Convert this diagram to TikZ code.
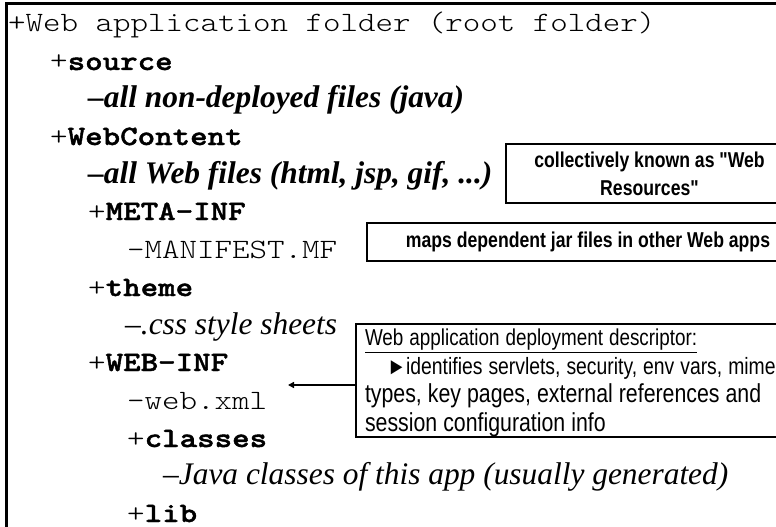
\documentclass[tikz,border=0pt]{standalone}
\usepackage{fontspec}
\setmainfont{Liberation Serif}
\newfontfamily\monofam{lmmonolt10-regular.otf}[FakeStretch=1.19, BoldFont=lmmonolt10-bold.otf, BoldFeatures={FakeStretch=1.19, FakeBold=1.5}]
\newfontfamily\narrowfam[FakeStretch=0.82]{Liberation Sans}
\usetikzlibrary{arrows.meta}
\tikzset{
  treeline/.style={font=\monofam\fontsize{28}{33}\selectfont, anchor=base west, inner sep=0pt},
  descline/.style={font=\fontsize{31.4}{35}\selectfont\itshape, anchor=base west, inner sep=0pt},
  descbold/.style={descline, font=\fontsize{31.4}{35}\selectfont\itshape\bfseries},
  notebox/.style={draw=black, line width=2pt, font=\narrowfam\bfseries\fontsize{21.5}{28}\selectfont, align=center, anchor=north west, inner sep=0pt},
  descbox/.style={draw=black, line width=2pt, font=\narrowfam\fontsize{26}{27.6}\selectfont, align=left, anchor=north west, inner xsep=9pt, inner ysep=0pt, text width=520pt},
  pointer/.style={line width=2pt, -{Triangle[length=6pt,width=6pt]}}
}
\begin{document}
\begin{tikzpicture}[x=1pt,y=-1pt]
\clip (0,0) rectangle (776,527);
\fill[white] (0,0) rectangle (776,527);
\node[draw=black, line width=3pt, anchor=north west, minimum width=800pt, minimum height=560pt, inner sep=0pt] (frame) at (4.5,2) {};

\node[treeline] (l1) at (8,32) {+Web application folder (root folder)};
\node[treeline] (l2) at (50,70) {+\textbf{source}};
\node[descbold] (l3) at (88,107) {–all non-deployed files (java)};
\node[treeline] (l4) at (50,145) {+\textbf{WebContent}};
\node[descbold] (l5) at (88,183) {–all Web files (html, jsp, gif, ...)};
\node[treeline] (l6) at (88,220) {+\textbf{META-INF}};
\node[treeline] (l7) at (127,258) {–MANIFEST.MF};
\node[treeline] (l8) at (88,296) {+\textbf{theme}};
\node[descline] (l9) at (125,334) {–.css style sheets};
\node[treeline] (l10) at (88,371) {+\textbf{WEB-INF}};
\node[treeline] (l11) at (127,409) {–web.xml};
\node[treeline] (l12) at (127,447) {+\textbf{classes}};
\node[descline] (l13) at (163,484) {–Java classes of this app (usually generated)};
\node[treeline] (l14) at (127,522) {+\textbf{lib}};

\node[notebox, minimum width=287pt, minimum height=59pt] (resbox) at (505,143) {collectively known as "Web\\Resources"};
\node[notebox, minimum width=442pt, minimum height=38pt] (mapbox) at (366,222) {maps dependent jar files in other Web apps};
\node[descbox, minimum height=113pt] (ddbox) at (355,323) {\spaceskip=6pt\relax
\rule{0pt}{21.5pt}\underline{\fontsize{23}{27.6}\selectfont Web application deployment descriptor:}\\[0.8pt]
\hspace*{22pt}{\fontsize{23.6}{27.6}\selectfont ►identifies servlets, security, env vars, mime}\\[0.8pt]
types, key pages, external references and\\[0.8pt]
session configuration info};

\coordinate (wxtip) at (288,385);
\draw[pointer] (ddbox.west |- wxtip) -- (wxtip);
\end{tikzpicture}
\end{document}
